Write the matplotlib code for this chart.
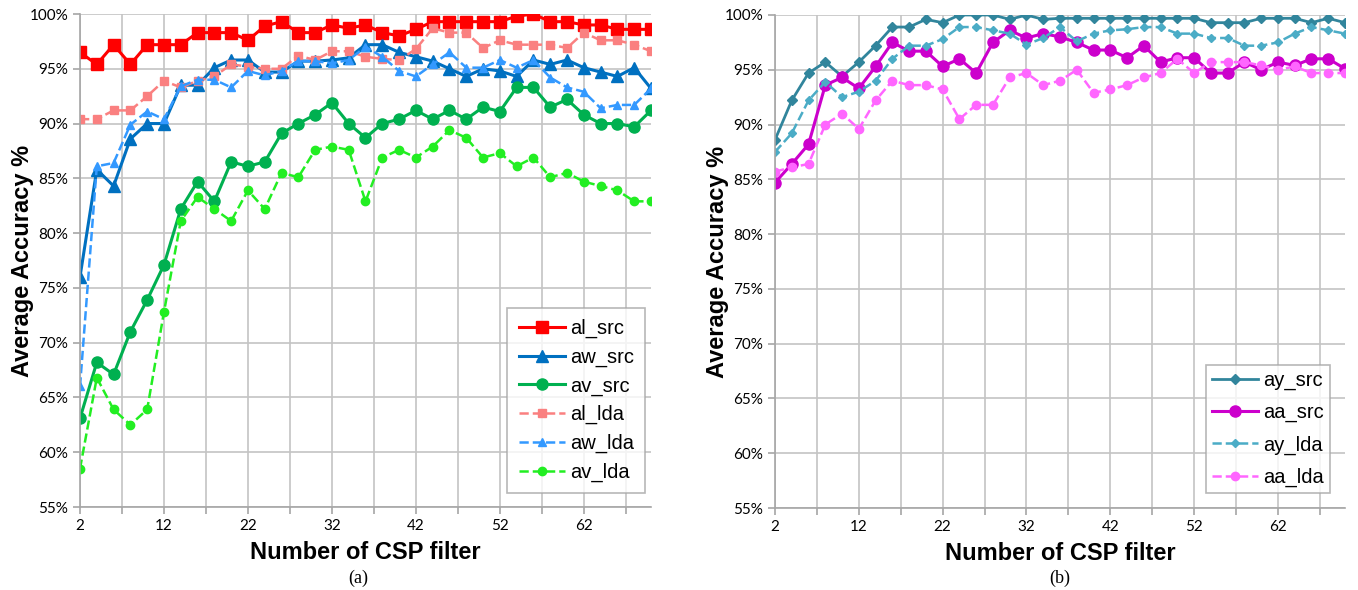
import numpy as np
import matplotlib
matplotlib.use("Agg")
import matplotlib.pyplot as plt
from matplotlib.ticker import FuncFormatter

# number of CSP filters
x = list(range(2, 71, 2))

# panel (a)
al_src = [96.5, 95.4, 97.2, 95.4, 97.2, 97.2, 97.2, 98.3, 98.3, 98.3, 97.6, 98.9, 99.3, 98.3, 98.3, 99.0, 98.7,
          99.0, 98.3, 98.0, 98.6, 99.3, 99.3, 99.3, 99.3, 99.3, 99.8, 100.0, 99.3, 99.3, 99.0, 99.0, 98.6, 98.6, 98.6]
aw_src = [76.0, 85.8, 84.3, 88.6, 90.0, 90.0, 93.5, 93.5, 95.1, 95.8, 95.8, 94.7, 94.7, 95.7, 95.7, 95.8, 96.0,
          97.2, 97.2, 96.5, 96.1, 95.7, 95.0, 94.3, 95.0, 94.8, 94.3, 95.8, 95.4, 95.8, 95.1, 94.7, 94.3, 95.1, 93.2]
av_src = [63.1, 68.2, 67.1, 71.0, 73.9, 77.1, 82.2, 84.7, 82.9, 86.5, 86.1, 86.5, 89.1, 90.0, 90.8, 91.9, 90.0,
          88.7, 90.0, 90.4, 91.2, 90.4, 91.2, 90.4, 91.5, 91.1, 93.3, 93.3, 91.5, 92.2, 90.8, 90.0, 90.0, 89.7, 91.2]
al_lda = [90.4, 90.4, 91.2, 91.2, 92.5, 93.9, 93.3, 93.9, 94.3, 95.4, 95.2, 95.0, 95.0, 96.2, 95.8, 96.6, 96.6,
          96.1, 95.9, 95.8, 96.8, 98.7, 98.3, 98.3, 96.9, 97.6, 97.2, 97.2, 97.2, 96.9, 98.3, 97.6, 97.6, 97.2, 96.6]
aw_lda = [66.0, 86.1, 86.4, 89.9, 91.1, 90.4, 93.4, 94.0, 94.0, 93.3, 94.8, 94.4, 94.8, 95.7, 95.7, 95.5, 95.8,
          97.0, 96.1, 94.8, 94.3, 95.4, 96.5, 95.1, 95.1, 95.8, 95.1, 95.8, 94.2, 93.3, 92.9, 91.4, 91.7, 91.7, 93.2]
av_lda = [58.5, 66.8, 63.9, 62.5, 63.9, 72.8, 81.1, 83.3, 82.2, 81.1, 83.9, 82.2, 85.5, 85.1, 87.6, 87.9, 87.6,
          82.9, 86.9, 87.6, 86.9, 87.9, 89.4, 88.7, 86.9, 87.3, 86.1, 86.9, 85.1, 85.5, 84.7, 84.3, 83.9, 82.9, 82.9]

# panel (b)
ay_src = [88.6, 92.2, 94.7, 95.7, 94.4, 95.7, 97.2, 98.9, 98.9, 99.6, 99.3, 100.0, 100.0, 100.0, 99.6, 100.0, 99.6,
          99.7, 99.7, 99.7, 99.7, 99.7, 99.7, 99.7, 99.7, 99.7, 99.3, 99.3, 99.3, 99.7, 99.7, 99.7, 99.3, 99.7, 99.3]
aa_src = [84.7, 86.4, 88.2, 93.6, 94.3, 93.3, 95.3, 97.5, 96.7, 96.7, 95.3, 96.0, 94.7, 97.5, 98.6, 97.9, 98.3,
          98.0, 97.5, 96.8, 96.8, 96.1, 97.2, 95.7, 96.1, 96.1, 94.7, 94.7, 95.7, 95.0, 95.7, 95.4, 96.0, 96.0, 95.1]
ay_lda = [87.5, 89.2, 92.2, 93.9, 92.5, 93.0, 94.0, 96.0, 97.2, 97.2, 97.8, 98.9, 98.9, 98.6, 98.3, 97.3, 97.9,
          98.9, 97.6, 98.3, 98.6, 98.7, 98.9, 98.9, 98.3, 98.3, 97.9, 97.9, 97.2, 97.2, 97.5, 98.3, 98.9, 98.6, 98.3]
aa_lda = [85.7, 86.1, 86.4, 90.0, 91.0, 89.6, 92.2, 94.0, 93.6, 93.6, 93.2, 90.5, 91.8, 91.8, 94.3, 94.7, 93.6,
          94.0, 95.0, 92.9, 93.2, 93.6, 94.3, 94.7, 96.0, 94.7, 95.7, 95.7, 95.7, 95.4, 95.0, 95.3, 94.7, 94.7, 94.7]

W, H = 1358, 590
fig = plt.figure(figsize=(W / 100, H / 100), dpi=100)


def box(l, r, t, b):
    return [l / W, (H - b) / H, (r - l) / W, (b - t) / H]


def style(ax):
    ax.set_xlim(2, 70)
    ax.set_ylim(55, 100)
    ax.set_xticks(np.arange(2, 70, 5), minor=True)
    ax.set_xticks(np.arange(2, 63, 10))
    ax.set_yticks(np.arange(55, 101, 5))
    ax.yaxis.set_major_formatter(FuncFormatter(lambda v, p: f"{v:.0f}%"))
    ax.grid(True, which="both", color="#c4c4c4", lw=1.2)
    ax.set_axisbelow(True)
    for s in ["top", "right"]:
        ax.spines[s].set_visible(False)
    for s in ["left", "bottom"]:
        ax.spines[s].set_color("#a6a6a6")
        ax.spines[s].set_linewidth(1.2)
    ax.tick_params(which="both", color="#a6a6a6", length=5, width=1.2, labelsize=11)
    for lab in ax.get_xticklabels() + ax.get_yticklabels():
        lab.set_fontfamily("Lato")
    ax.set_xlabel("Number of CSP filter", fontsize=17, fontweight="bold",
                  family="Liberation Sans", labelpad=6)
    ax.set_ylabel("Average Accuracy %", fontsize=17, fontweight="bold",
                  family="Liberation Sans", labelpad=-3)


def legend(ax, right, bottom, pad, spacing):
    leg = ax.legend(loc="lower right", bbox_to_anchor=(right / W, 1 - bottom / H),
                    bbox_transform=fig.transFigure, borderaxespad=0, fancybox=False,
                    prop={"family": "Liberation Sans", "size": 14.5}, handlelength=2.3,
                    labelspacing=spacing, borderpad=pad, handletextpad=0.25)
    leg.get_frame().set_edgecolor("#a6a6a6")
    leg.get_frame().set_linewidth(1.2)


ax1 = fig.add_axes(box(80, 651, 14, 507))
ax1.plot(x, al_src, "-s", color="#ff0000", lw=2.2, ms=8, label="al_src")
ax1.plot(x, aw_src, "-^", color="#0070c0", lw=2.2, ms=8, label="aw_src")
ax1.plot(x, av_src, "-o", color="#00b050", lw=2.2, ms=8, label="av_src")
ax1.plot(x, al_lda, "--s", color="#fa8080", lw=1.8, ms=6, label="al_lda")
ax1.plot(x, aw_lda, "--^", color="#3399ff", lw=1.8, ms=6, label="aw_lda")
ax1.plot(x, av_lda, "--o", color="#22ee22", lw=1.8, ms=6, label="av_lda")
style(ax1)
legend(ax1, 645, 493, 0.55, 0.47)

ax2 = fig.add_axes(box(775, 1345, 15, 508))
ax2.plot(x, ay_src, "-D", color="#31859c", lw=2.0, ms=5, label="ay_src")
ax2.plot(x, aa_src, "-o", color="#cc00cc", lw=2.2, ms=8, label="aa_src")
ax2.plot(x, ay_lda, "--D", color="#4bacc6", lw=1.8, ms=4.5, label="ay_lda")
ax2.plot(x, aa_lda, "--o", color="#ff66ff", lw=1.8, ms=6, label="aa_lda")
style(ax2)
legend(ax2, 1330, 493, 0.3, 0.65)

fig.text(358 / W, 1 - 578 / H, "(a)", ha="center", va="center", fontsize=13, family="Liberation Serif")
fig.text(1060 / W, 1 - 578 / H, "(b)", ha="center", va="center", fontsize=13, family="Liberation Serif")

fig.savefig("out.png", dpi=100)
